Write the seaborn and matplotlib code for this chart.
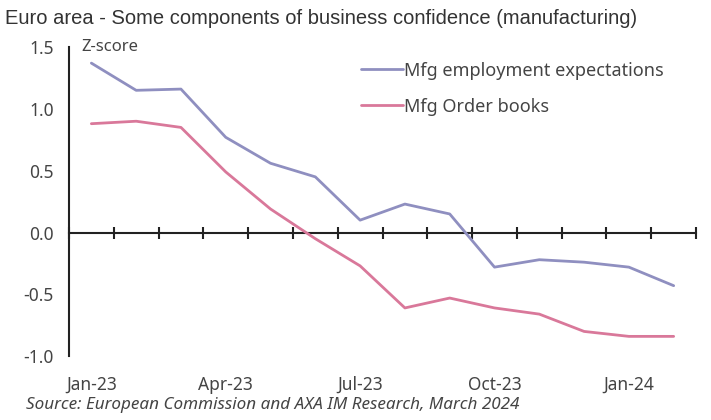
import pandas as pd
import numpy as np
import matplotlib
matplotlib.use("Agg")
import matplotlib.pyplot as plt
import seaborn as sns

# monthly data, Jan-23 .. Feb-24
months = ["Jan-23", "Feb-23", "Mar-23", "Apr-23", "May-23", "Jun-23", "Jul-23",
          "Aug-23", "Sep-23", "Oct-23", "Nov-23", "Dec-23", "Jan-24", "Feb-24"]
employment = [1.37, 1.15, 1.16, 0.77, 0.56, 0.45, 0.10,
              0.23, 0.15, -0.28, -0.22, -0.24, -0.28, -0.43]
order_books = [0.88, 0.90, 0.85, 0.49, 0.19, -0.05, -0.27,
               -0.61, -0.53, -0.61, -0.66, -0.80, -0.84, -0.84]
series_names = ["Mfg employment expectations", "Mfg Order books"]
colors = ["#8f8fc0", "#d9789a"]
yticks = [-1.0, -0.5, 0.0, 0.5, 1.0, 1.5]

df = pd.DataFrame({
    "pos": list(range(len(months))) * 2,
    "value": employment + order_books,
    "series": [series_names[0]] * len(months) + [series_names[1]] * len(months),
})

sns.set_style("white")
plt.rcParams["font.family"] = ["Noto Sans", "DejaVu Sans"]

fig = plt.figure(figsize=(7.11, 4.2), dpi=100)
ax = fig.add_axes([0.097, 0.152, 0.882, 0.736])

sns.lineplot(data=df, x="pos", y="value", hue="series", palette=colors,
             linewidth=2.0, ax=ax)

ax.set_xlim(-0.5, len(months) - 0.5)
ax.set_ylim(-1.0, 1.5)
ax.set_xlabel("")
ax.set_ylabel("")

for s in ["top", "right", "bottom"]:
    ax.spines[s].set_visible(False)
ax.spines["left"].set_color("#222222")
ax.spines["left"].set_linewidth(1.5)

ax.set_yticks(yticks)
ax.set_yticklabels([f"{v:.1f}" for v in yticks], fontsize=12.5, color="#444444")
ax.tick_params(axis="y", direction="out", length=5, width=1.5, color="#222222", pad=6)

# labels every third month, no ticks at the bottom
label_pos = list(range(0, len(months), 3))
ax.set_xticks(label_pos)
ax.set_xticklabels([months[i] for i in label_pos], fontsize=12.5, color="#444444")
ax.tick_params(axis="x", length=0, pad=14)

# zero line with ticks between months
zero_frac = (0 - (-1.0)) / (1.5 - (-1.0))
sec = ax.secondary_xaxis(zero_frac)
sec.set_xticks(np.arange(-0.5, len(months), 1.0))
sec.set_xticklabels([])
sec.tick_params(direction="inout", length=8, width=1.5, color="#222222")
sec.spines["bottom"].set_color("#222222")
sec.spines["bottom"].set_linewidth(1.5)

leg = ax.legend(loc="upper left", bbox_to_anchor=(0.44, 1.005), frameon=False,
                fontsize=13, handlelength=2.3, handletextpad=0.1, labelspacing=1.0)
for t in leg.get_texts():
    t.set_color("#444444")

ax.text(0.02, 1.5, "Z-score", fontsize=12, color="#444444",
        transform=ax.get_yaxis_transform(), va="center", ha="left")

fig.text(0.007, 0.955, "Euro area - Some components of business confidence (manufacturing)",
         fontsize=14.5, color="#333333", family="Liberation Sans", va="center")
fig.text(0.036, 0.035, "Source: European Commission and AXA IM Research, March 2024",
         fontsize=12.3, style="italic", color="#444444", va="center")

fig.savefig("out.png", dpi=100)
